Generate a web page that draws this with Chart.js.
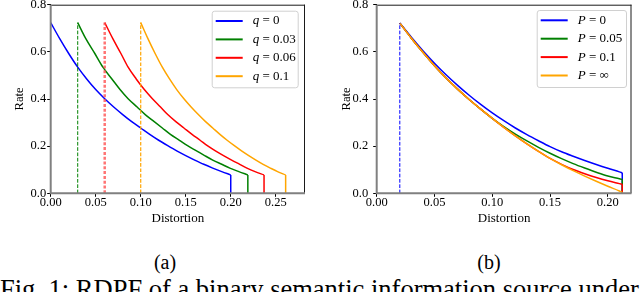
<!DOCTYPE html>
<html>
<head>
<meta charset="utf-8">
<script src="https://cdn.jsdelivr.net/npm/chart.js@4.4.1/dist/chart.umd.min.js"></script>
<style>
  html, body { margin: 0; padding: 0; background: #fff; }
  #page { position: relative; width: 640px; height: 292px; overflow: hidden; color: #000;
          font-family: "Liberation Serif", serif; }
  .plot { position: absolute; top: 0; width: 320px; height: 235px; }
  #boxA { left: 0; }
  #boxB { left: 320px; }
  .sub { position: absolute; top: 252px; width: 60px; text-align: center;
         font-size: 20px; line-height: 20px; }
  #caption { position: absolute; left: 0; top: 276px; font-size: 26.5px;
             line-height: 26px; white-space: nowrap; }
</style>
</head>
<body>
<div id="page">
  <div class="plot" id="boxA"><canvas id="chartA"></canvas></div>
  <div class="plot" id="boxB"><canvas id="chartB"></canvas></div>
  <div class="sub" style="left:135px">(a)</div>
  <div class="sub" style="left:459px">(b)</div>
  <div id="caption">Fig. 1: RDPF of a binary semantic information source under</div>
</div>
<script>
// ---- (a) curves for different q ----
const qLabels = ['0', '0.03', '0.06', '0.1'];
const qStarts = [0, 0.03, 0.06, 0.1];
const xQ0 = [0.000, 0.010, 0.020, 0.030, 0.040, 0.050, 0.060, 0.070, 0.080, 0.090, 0.100,
             0.110, 0.120, 0.130, 0.140, 0.150, 0.160, 0.170, 0.180, 0.190, 0.200];
const xQ1 = [0.030, 0.039, 0.049, 0.058, 0.068, 0.077, 0.086, 0.096, 0.105, 0.115, 0.124,
             0.133, 0.143, 0.152, 0.162, 0.171, 0.180, 0.190, 0.199, 0.209, 0.219];
const xQ2 = [0.060, 0.069, 0.078, 0.086, 0.095, 0.104, 0.113, 0.122, 0.130, 0.139, 0.148,
             0.157, 0.166, 0.174, 0.183, 0.192, 0.201, 0.210, 0.218, 0.227, 0.237];
const xQ3 = [0.100, 0.108, 0.116, 0.124, 0.132, 0.140, 0.148, 0.156, 0.164, 0.172, 0.180,
             0.188, 0.196, 0.204, 0.212, 0.220, 0.228, 0.236, 0.244, 0.252, 0.261];
const rateQ = [0.724, 0.656, 0.593, 0.535, 0.485, 0.440, 0.401, 0.366, 0.334, 0.304, 0.277,
               0.250, 0.225, 0.202, 0.180, 0.160, 0.141, 0.123, 0.107, 0.092, 0.078];
const xTicksA = [0, 0.05, 0.10, 0.15, 0.20, 0.25];

// ---- (b) curves for different P ----
const pLabels = ['0', '0.05', '0.1', '\u221e'];
const pStart = 0.02;
const xP = [0.020, 0.030, 0.040, 0.050, 0.060, 0.070, 0.080, 0.090, 0.100, 0.110, 0.120,
            0.130, 0.140, 0.150, 0.160, 0.170, 0.180, 0.190, 0.200, 0.210, 0.2125];
const rateP0 = [0.722, 0.662, 0.605, 0.552, 0.503, 0.458, 0.416, 0.377, 0.341, 0.308, 0.277,
                0.249, 0.223, 0.198, 0.176, 0.157, 0.139, 0.122, 0.106, 0.091, 0.087];
const rateP1 = [0.722, 0.658, 0.598, 0.541, 0.489, 0.442, 0.398, 0.357, 0.318, 0.283, 0.251,
                0.222, 0.195, 0.170, 0.147, 0.126, 0.107, 0.089, 0.073, 0.062, 0.059];
const rateP2 = [0.722, 0.658, 0.598, 0.541, 0.489, 0.442, 0.398, 0.357, 0.318, 0.280, 0.244,
                0.210, 0.178, 0.148, 0.123, 0.101, 0.083, 0.067, 0.053, 0.041, 0.038];
const rateP3 = [0.722, 0.658, 0.598, 0.541, 0.489, 0.442, 0.398, 0.357, 0.318, 0.280, 0.244,
                0.210, 0.178, 0.148, 0.121, 0.096, 0.073, 0.051, 0.030, 0.010, 0.004];
const xTicksB = [0, 0.05, 0.10, 0.15, 0.20];

const yTicks = [0, 0.2, 0.4, 0.6, 0.8];
const colors = ['#0000ff', '#008000', '#ff0000', '#ffa500'];
const FONT = '"Liberation Serif", serif';

function pts(xs, ys) { return xs.map((x, i) => ({ x: x, y: ys[i] })); }

function curve(xs, ys, color, order) {
  return { data: pts(xs, ys), borderColor: color, borderWidth: 1.5, pointRadius: 0,
           showLine: true, cubicInterpolationMode: 'monotone', order: order };
}
// vertical drop to zero at the end of a curve
function drop(xs, ys, color, order) {
  const n = xs.length - 1;
  return { data: [{ x: xs[n], y: ys[n] }, { x: xs[n], y: 0 }], borderColor: color,
           borderWidth: 1.5, pointRadius: 0, showLine: true, order: order };
}
function dashed(x, top, color, width, dash, order) {
  return { data: [{ x: x, y: 0 }, { x: x, y: top }], borderColor: color, borderWidth: width,
           borderDash: dash, pointRadius: 0, showLine: true, order: order };
}

// frame: grey left/bottom spines, dark top/right
const frame = {
  id: 'frame',
  afterDatasetsDraw(chart) {
    const { ctx, chartArea: a } = chart;
    ctx.save();
    ctx.strokeStyle = '#1a1a1a'; ctx.lineWidth = 1;
    ctx.beginPath();
    ctx.moveTo(a.left, a.top + 0.5); ctx.lineTo(a.right, a.top + 0.5);
    ctx.moveTo(a.right - 0.5, a.top); ctx.lineTo(a.right - 0.5, a.bottom);
    ctx.stroke();
    ctx.strokeStyle = '#808080'; ctx.lineWidth = 2;
    ctx.beginPath();
    ctx.moveTo(a.left, a.top); ctx.lineTo(a.left, a.bottom + 1);
    ctx.moveTo(a.left - 1, a.bottom); ctx.lineTo(a.right, a.bottom);
    ctx.stroke();
    ctx.restore();
  }
};

// legend with italic variable name
const mathLegend = {
  id: 'mathLegend',
  afterDraw(chart) {
    const o = chart.options.plugins.mathLegend;
    if (!o) return;
    const { ctx, chartArea: a } = chart;
    const bx = a.right - o.right - o.width, by = a.top + o.top;
    ctx.save();
    ctx.beginPath();
    ctx.roundRect(bx + 0.5, by + 0.5, o.width, o.height, 2.5);
    ctx.fillStyle = 'rgba(255,255,255,0.85)';
    ctx.fill();
    ctx.strokeStyle = '#d0d0d0'; ctx.lineWidth = 1;
    ctx.stroke();
    o.labels.forEach((lab, i) => {
      const y = by + 10.3 + i * 18.4;
      ctx.strokeStyle = colors[i]; ctx.lineWidth = 2;
      ctx.beginPath(); ctx.moveTo(bx + 4, y); ctx.lineTo(bx + 31, y); ctx.stroke();
      ctx.fillStyle = '#000'; ctx.textBaseline = 'middle'; ctx.textAlign = 'left';
      ctx.font = 'italic 13px ' + FONT;
      ctx.fillText(o.variable, bx + 41, y);
      const w = ctx.measureText(o.variable).width;
      ctx.font = '13px ' + FONT;
      ctx.fillText(' = ' + lab, bx + 41 + w, y);
    });
    ctx.restore();
  }
};

function makeChart(id, cfg) {
  return new Chart(document.getElementById(id), {
    type: 'scatter',
    data: { datasets: cfg.datasets },
    plugins: [frame, mathLegend],
    options: {
      responsive: true, maintainAspectRatio: false, animation: false,
      layout: { padding: { left: 0, top: 4.7, right: cfg.padRight, bottom: 0 } },
      plugins: { legend: { display: false }, tooltip: { enabled: false },
                 mathLegend: cfg.legend },
      scales: {
        x: {
          type: 'linear', min: 0, max: cfg.xMax,
          afterBuildTicks: s => { s.ticks = cfg.xTicks.map(v => ({ value: v })); },
          afterFit: s => { s.height = 41.7; s.paddingLeft = 0; s.paddingRight = 0; },
          ticks: { color: '#000', padding: 0, maxRotation: 0, autoSkip: false,
                   font: { family: FONT, size: 12.5, lineHeight: 1 },
                   callback: v => v.toFixed(2) },
          grid: { display: true, drawOnChartArea: false, drawTicks: true, tickLength: 3.5,
                  color: '#000', lineWidth: 1 },
          border: { display: false },
          title: { display: true, text: 'Distortion', color: '#000',
                   font: { family: FONT, size: 13 }, padding: { top: 0, bottom: 8.2 } }
        },
        y: {
          type: 'linear', min: 0, max: 0.8,
          afterBuildTicks: s => { s.ticks = yTicks.map(v => ({ value: v })); },
          afterFit: s => { s.width = cfg.yWidth; s.paddingTop = 0; s.paddingBottom = 0; },
          ticks: { color: '#000', padding: cfg.yPad,
                   font: { family: FONT, size: 12.5, lineHeight: 1 },
                   callback: v => v.toFixed(1) },
          grid: { display: true, drawOnChartArea: false, drawTicks: true, tickLength: 3.5,
                  color: '#000', lineWidth: 1 },
          border: { display: false },
          title: { display: true, text: 'Rate', color: '#000',
                   font: { family: FONT, size: 12.5 }, padding: { top: cfg.yTitlePad, bottom: 0 } }
        }
      }
    }
  });
}

const xsQ = [xQ0, xQ1, xQ2, xQ3];
const dsA = [];
xsQ.forEach((xs, i) => {
  dsA.push(curve(xs, rateQ, colors[i], 10 - i));
  dsA.push(drop(xs, rateQ, colors[i], 10 - i));
});
dsA.push(dashed(qStarts[1], rateQ[0], colors[1], 1, [3.7, 1.6], 2));
dsA.push(dashed(qStarts[2], rateQ[0], 'rgba(255,70,70,0.75)', 2.5, [3, 1.8], 1));
dsA.push(dashed(qStarts[3], rateQ[0], colors[3], 1.2, [3.7, 1.6], 0));

const ratesP = [rateP0, rateP1, rateP2, rateP3];
const dsB = [];
ratesP.forEach((ys, i) => {
  dsB.push(curve(xP, ys, colors[i], 10 - i));
  dsB.push(drop(xP, ys, colors[i], 10 - i));
});
dsB.push(dashed(pStart, rateP0[0], colors[0], 1, [3.7, 1.6], 0));

makeChart('chartA', {
  datasets: dsA, xMax: 0.2825, xTicks: xTicksA, padRight: 15, yWidth: 50.7, yPad: 1,
  yTitlePad: 12.2,
  legend: { variable: 'q', labels: qLabels, right: 7.3, top: 6, width: 86, height: 76.6 }
});
makeChart('chartB', {
  datasets: dsB, xMax: 0.2205, xTicks: xTicksB, padRight: 8.5, yWidth: 56.7, yPad: 5,
  yTitlePad: 19.2,
  legend: { variable: 'P', labels: pLabels, right: 5.5, top: 5.3, width: 89.3, height: 77 }
});
</script>
</body>
</html>
